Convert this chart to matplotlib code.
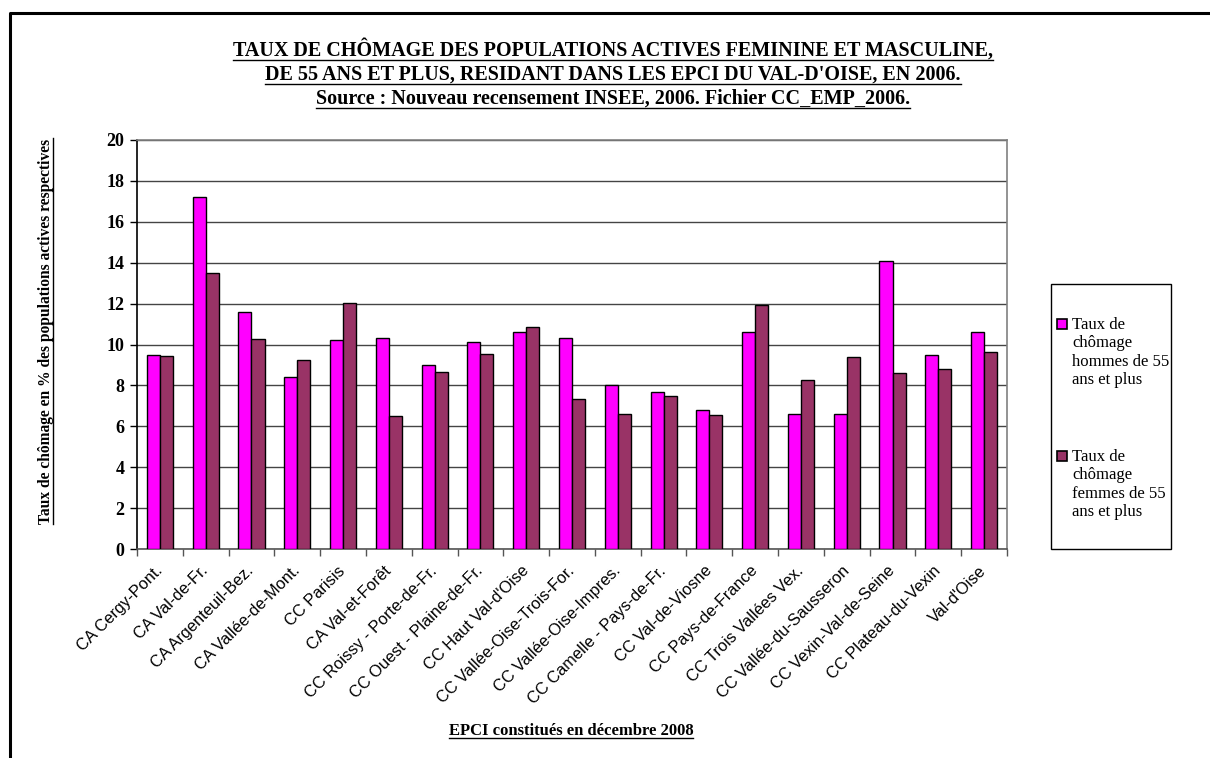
import numpy as np
import matplotlib
matplotlib.use("Agg")
from matplotlib import pyplot as plt
from matplotlib.lines import Line2D
from matplotlib.patches import Rectangle

categories = ["CA Cergy-Pont.", "CA Val-de-Fr.", "CA Argenteuil-Bez.", "CA Vallée-de-Mont.",
              "CC Parisis", "CA Val-et-Forêt", "CC Roissy - Porte-de-Fr.",
              "CC Ouest - Plaine-de-Fr.", "CC Haut Val-d'Oise", "CC Vallée-Oise-Trois-For.",
              "CC Vallée-Oise-Impres.", "CC Camelle - Pays-de-Fr.", "CC Val-de-Viosne",
              "CC Pays-de-France", "CC Trois Vallées Vex.", "CC Vallée-du-Sausseron",
              "CC Vexin-Val-de-Seine", "CC Plateau-du-Vexin", "Val-d'Oise"]
hommes = [9.5, 17.2, 11.6, 8.4, 10.2, 10.3, 9.0, 10.1, 10.6, 10.3,
          8.0, 7.7, 6.8, 10.6, 6.6, 6.6, 14.1, 9.5, 10.6]
femmes = [9.45, 13.5, 10.25, 9.25, 12.05, 6.5, 8.65, 9.55, 10.85, 7.35,
          6.6, 7.5, 6.55, 11.95, 8.25, 9.4, 8.6, 8.8, 9.65]
legend_labels = ["Taux de\nchômage\nhommes de 55\nans et plus",
                 "Taux de\nchômage\nfemmes de 55\nans et plus"]
title_lines = ["TAUX DE CHÔMAGE DES POPULATIONS ACTIVES FEMININE ET MASCULINE,",
               "DE 55 ANS ET PLUS, RESIDANT DANS LES EPCI DU VAL-D'OISE, EN 2006.",
               "Source : Nouveau recensement INSEE, 2006. Fichier CC_EMP_2006."]
ylabel = "Taux de chômage en % des populations actives respectives"
xlabel = "EPCI constitués en décembre 2008"

PINK = "#FF00FF"
MAROON = "#993366"
SERIF = "Liberation Serif"
SANS = "Liberation Sans"

W, H = 1210, 758
fig = plt.figure(figsize=(W / 100, H / 100), dpi=100)

def fx(px):
    return px / W

def fy(py):
    return 1 - py / H

ax = fig.add_axes([fx(137), fy(549), fx(1007) - fx(137), fy(140) - fy(549)])

x = np.arange(len(categories))
bw = 0.285
ax.bar(x - bw / 2, hommes, bw, color=PINK, edgecolor="black", linewidth=1, zorder=3)
ax.bar(x + bw / 2, femmes, bw, color=MAROON, edgecolor="black", linewidth=1, zorder=3)

ax.set_xlim(-0.5, len(categories) - 0.5)
ax.set_ylim(0, 20)
ax.set_yticks(np.arange(0, 21, 2))
ax.yaxis.grid(True, color="#444444", linewidth=1, zorder=0)
ax.set_axisbelow(True)

for lab in ax.set_yticklabels([str(v) for v in range(0, 21, 2)]):
    lab.set_fontfamily(SERIF)
    lab.set_fontweight("bold")
    lab.set_fontsize(13)
ax.tick_params(axis="y", direction="out", length=5, width=1, pad=4, color="black")

ax.set_xticks(x)
ax.set_xticklabels(categories, rotation=45, ha="right", va="center",
                   rotation_mode="anchor", fontfamily=SANS, fontsize=11.8)
ax.tick_params(axis="x", which="major", length=0, pad=14)
ax.set_xticks(np.arange(-0.5, len(categories)), minor=True)
ax.tick_params(axis="x", which="minor", direction="out", length=5, width=1, color="#555555")

ax.spines["left"].set_color("black")
ax.spines["bottom"].set_color("#555555")
ax.spines["top"].set_color("#808080")
ax.spines["right"].set_color("#808080")
for s in ax.spines.values():
    s.set_linewidth(1.2)

# titles
texts_to_underline = []
for i, line in enumerate(title_lines):
    t = fig.text(fx(613), fy(50 + 24.5 * i), line, ha="center", va="center",
                 fontfamily=SERIF, fontweight="bold", fontsize=14.5)
    texts_to_underline.append((t, "h"))

yl = fig.text(fx(46), fy(331), ylabel, rotation=90, ha="center", va="center",
              fontfamily=SERIF, fontweight="bold", fontsize=11.2)
texts_to_underline.append((yl, "v"))

xl = fig.text(fx(571), fy(731), xlabel, ha="center", va="center",
              fontfamily=SERIF, fontweight="bold", fontsize=12)
texts_to_underline.append((xl, "h"))

# legend box
fig.add_artist(Rectangle((fx(1051), fy(549)), fx(1171) - fx(1051), fy(284) - fy(549),
                         transform=fig.transFigure, facecolor="white",
                         edgecolor="black", linewidth=1))
for col, lab, top in zip([PINK, MAROON], legend_labels, [317, 449]):
    fig.add_artist(Rectangle((fx(1057), fy(top + 12)), fx(10), fy(0) - fy(10),
                             transform=fig.transFigure, facecolor=col,
                             edgecolor="black", linewidth=1.2))
    fig.text(fx(1072), fy(top), lab, ha="left", va="top", fontfamily=SERIF,
             fontsize=12, linespacing=1.2)

# outer frame (top and left)
fig.add_artist(Line2D([fx(10), fx(10), 1], [0, fy(13), fy(13)],
                      transform=fig.transFigure, color="black", linewidth=2.2))

# underline text
fig.canvas.draw()
renderer = fig.canvas.get_renderer()
inv = fig.transFigure.inverted()
for t, mode in texts_to_underline:
    bb = t.get_window_extent(renderer)
    if mode == "h":
        p0 = inv.transform((bb.x0, bb.y0 + 1))
        p1 = inv.transform((bb.x1, bb.y0 + 1))
    else:
        p0 = inv.transform((bb.x1 - 1, bb.y0))
        p1 = inv.transform((bb.x1 - 1, bb.y1))
    fig.add_artist(Line2D([p0[0], p1[0]], [p0[1], p1[1]], transform=fig.transFigure,
                          color="black", linewidth=1))

fig.savefig("out.png", dpi=100)
